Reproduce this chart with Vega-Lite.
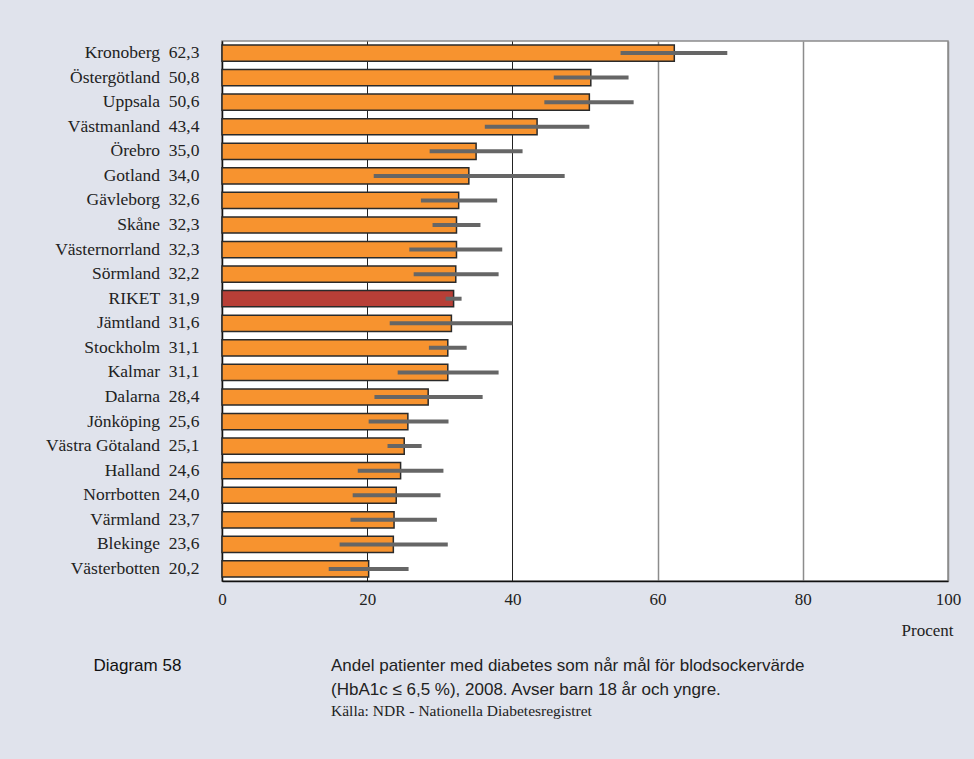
{
  "$schema": "https://vega.github.io/schema/vega-lite/v6.json",
  "autosize": {"type": "none"},
  "width": 726,
  "height": 540,
  "padding": {"left": 222, "top": 41, "right": 26, "bottom": 178},
  "background": "#e0e3ec",
  "config": {
    "view": {"fill": "white", "stroke": "#8c8c8c", "strokeWidth": 1.5},
    "locale": {"number": {"decimal": ",", "thousands": " ", "grouping": [3], "currency": ["", " kr"]}},
    "font": "Liberation Serif"
  },
  "title": {
    "text": ["Andel patienter med diabetes som når mål för blodsockervärde", "(HbA1c ≤ 6,5 %), 2008. Avser barn 18 år och yngre."],
    "subtitle": "Källa: NDR - Nationella Diabetesregistret",
    "orient": "bottom",
    "anchor": "start",
    "frame": "group",
    "dx": 109,
    "offset": -15,
    "font": "Liberation Sans",
    "fontSize": 17,
    "fontWeight": "normal",
    "color": "#222",
    "lineHeight": 24,
    "subtitleFont": "Liberation Serif",
    "subtitleFontSize": 15.5,
    "subtitleColor": "#222",
    "subtitlePadding": 5
  },
  "data": {
    "values": [
      {"region": "Kronoberg", "value": 62.3, "lo": 54.9, "hi": 69.6},
      {"region": "Östergötland", "value": 50.8, "lo": 45.7, "hi": 56.0},
      {"region": "Uppsala", "value": 50.6, "lo": 44.4, "hi": 56.7},
      {"region": "Västmanland", "value": 43.4, "lo": 36.2, "hi": 50.6},
      {"region": "Örebro", "value": 35.0, "lo": 28.6, "hi": 41.4},
      {"region": "Gotland", "value": 34.0, "lo": 20.9, "hi": 47.2},
      {"region": "Gävleborg", "value": 32.6, "lo": 27.4, "hi": 37.9},
      {"region": "Skåne", "value": 32.3, "lo": 29.0, "hi": 35.6},
      {"region": "Västernorrland", "value": 32.3, "lo": 25.8, "hi": 38.6},
      {"region": "Sörmland", "value": 32.2, "lo": 26.4, "hi": 38.1},
      {"region": "RIKET", "value": 31.9, "lo": 30.8, "hi": 33.0},
      {"region": "Jämtland", "value": 31.6, "lo": 23.1, "hi": 40.0},
      {"region": "Stockholm", "value": 31.1, "lo": 28.5, "hi": 33.7},
      {"region": "Kalmar", "value": 31.1, "lo": 24.2, "hi": 38.1},
      {"region": "Dalarna", "value": 28.4, "lo": 21.0, "hi": 35.9},
      {"region": "Jönköping", "value": 25.6, "lo": 20.2, "hi": 31.2},
      {"region": "Västra Götaland", "value": 25.1, "lo": 22.8, "hi": 27.5},
      {"region": "Halland", "value": 24.6, "lo": 18.7, "hi": 30.5},
      {"region": "Norrbotten", "value": 24.0, "lo": 18.0, "hi": 30.1},
      {"region": "Värmland", "value": 23.7, "lo": 17.7, "hi": 29.6},
      {"region": "Blekinge", "value": 23.6, "lo": 16.2, "hi": 31.1},
      {"region": "Västerbotten", "value": 20.2, "lo": 14.7, "hi": 25.7}
    ]
  },
  "transform": [
    {"calculate": "datum.region + '\u00a0\u00a0' + format(datum.value, '.1f')", "as": "label"}
  ],
  "encoding": {
    "y": {
      "field": "label",
      "type": "nominal",
      "sort": null,
      "scale": {"paddingInner": 0.34, "paddingOuter": 0.16},
      "axis": {
        "ticks": false,
        "domainColor": "#111",
        "domainWidth": 1.5,
        "labelFont": "Liberation Serif",
        "labelFontSize": 17.5,
        "labelColor": "#222",
        "labelPadding": 23,
        "title": "Diagram 58",
        "titleAngle": 0,
        "titleAlign": "left",
        "titleBaseline": "alphabetic",
        "titleX": -129,
        "titleY": 629,
        "titleFont": "Liberation Sans",
        "titleFontSize": 17,
        "titleFontWeight": "normal",
        "titleColor": "#111"
      }
    }
  },
  "layer": [
    {
      "mark": {"type": "bar", "stroke": "#2a2a2a", "strokeWidth": 1.5},
      "encoding": {
        "x": {
          "field": "value",
          "type": "quantitative",
          "scale": {"domain": [0, 100], "nice": false},
          "axis": {
            "values": [0, 20, 40, 60, 80, 100],
            "ticks": false,
            "labelFlush": false,
            "domainColor": "#111",
            "domainWidth": 1.5,
            "gridColor": {"condition": {"test": "datum.value <= 40", "value": "#222"}, "value": "#8c8c8c"},
            "gridWidth": {"condition": {"test": "datum.value <= 40", "value": 1}, "value": 1.5},
            "labelFont": "Liberation Serif",
            "labelFontSize": 17,
            "labelColor": "#222",
            "labelPadding": 10,
            "title": "Procent",
            "titleFont": "Liberation Serif",
            "titleFontSize": 17,
            "titleFontWeight": "normal",
            "titleColor": "#222",
            "titleAnchor": "end",
            "titleAlign": "right",
            "titleX": 731,
            "titlePadding": 15
          }
        },
        "color": {
          "condition": {"test": "datum.region == 'RIKET'", "value": "#b83f37"},
          "value": "#f7932f"
        }
      }
    },
    {
      "mark": {"type": "rule", "color": "#666666", "strokeWidth": 4, "strokeCap": "butt"},
      "encoding": {
        "x": {"field": "lo", "type": "quantitative"},
        "x2": {"field": "hi"}
      }
    }
  ]
}
